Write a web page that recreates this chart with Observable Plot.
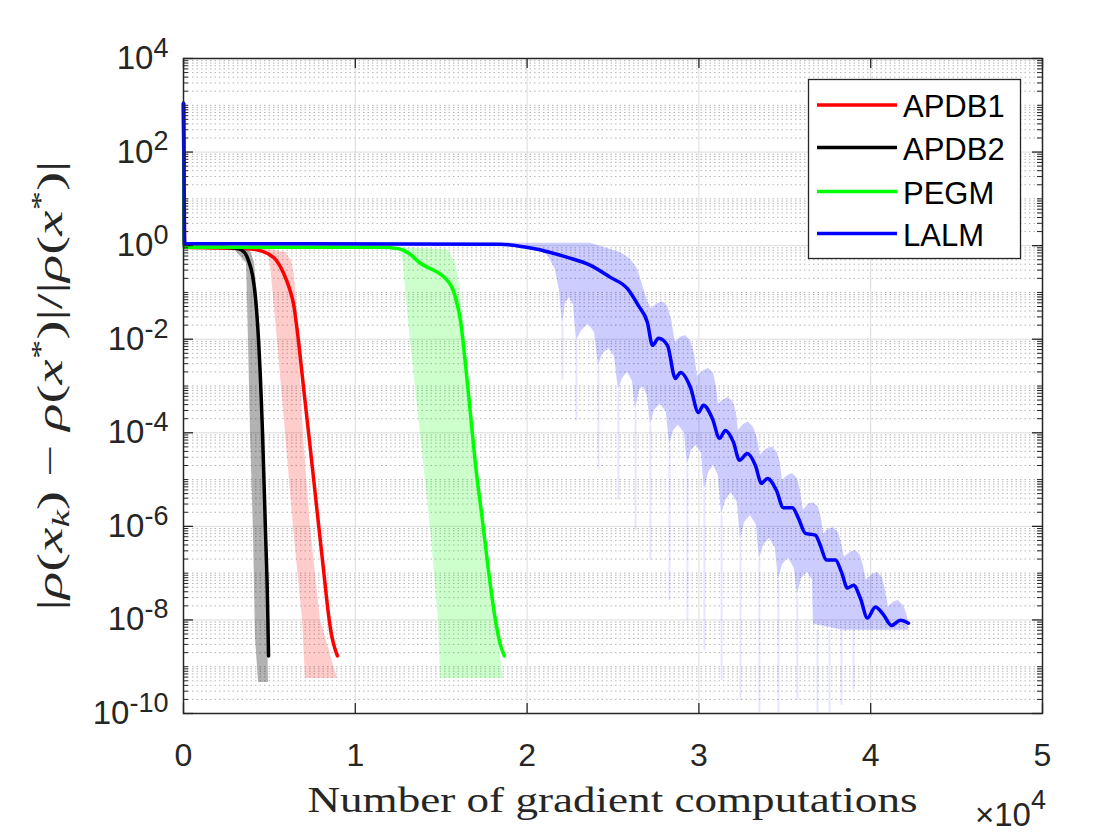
<!DOCTYPE html>
<html><head><meta charset="utf-8">
<script src="https://cdn.jsdelivr.net/npm/d3@7"></script>
<script src="https://cdn.jsdelivr.net/npm/@observablehq/plot@0.6"></script>
<style>
html,body{margin:0;padding:0;background:#fff;}
#chart{width:1120px;height:840px;}
</style></head><body><div id="chart"></div>
<script>
// ---------- series names / colours ----------
const seriesNames = ["APDB1", "APDB2", "PEGM", "LALM"];
const seriesColors = ["#ff0000", "#000000", "#00ff00", "#0000ff"];

// ---------- axis ticks ----------
const xTicks = [0, 10000, 20000, 30000, 40000, 50000];
const xTickLabels = ["0", "1", "2", "3", "4", "5"];
const yTicks = [1e-10, 1e-8, 1e-6, 1e-4, 1e-2, 1e0, 1e2, 1e4];
const yTickExponents = ["-10", "-8", "-6", "-4", "-2", "0", "2", "4"];

// ---------- APDB1 (mean line + band) ----------
const apdb1X = [0, 60, 3490, 4190, 4890, 5410, 5820, 6170, 6400, 6690, 6980, 7280, 7570, 7860, 8150, 8440, 8610, 8790, 8960];
const apdb1Y = [1.1e3, 0.92, 0.87, 0.83, 0.68, 0.48, 0.26, 0.12, 5.8e-2, 9.3e-3, 9.8e-4, 1.0e-4, 1.07e-5, 1.1e-6, 1.2e-7, 1.3e-8, 4.9e-9, 2.6e-9, 1.7e-9];
const apdb1LoX = [4600, 4890, 5010, 5120, 5240, 5470, 5940, 6400, 6930, 7100];
const apdb1LoY = [0.83, 0.74, 0.53, 0.23, 7.8e-2, 9.3e-3, 9.6e-5, 9.5e-7, 9.8e-9, 5.6e-10];
const apdb1HiX = [5060, 5940, 6290, 6460, 6580, 6690, 6980, 7390, 7970, 8960];
const apdb1HiY = [0.83, 0.71, 0.48, 0.23, 6.8e-2, 9.3e-3, 9.6e-5, 9.5e-7, 9.8e-9, 5.6e-10];

// ---------- APDB2 ----------
const apdb2X = [0, 60, 2150, 3140, 3550, 3780, 4020, 4190, 4370, 4600, 4770, 4890, 4950];
const apdb2Y = [1.1e3, 0.92, 0.92, 0.87, 0.72, 0.48, 0.23, 7.8e-2, 9.3e-3, 9.8e-5, 8.3e-7, 2.6e-8, 1.7e-9];
const apdb2LoX = [2850, 3670, 3720, 3780, 3900, 4070, 4190, 4370];
const apdb2LoY = [0.92, 0.42, 7.8e-2, 9.3e-3, 9.6e-5, 8.1e-7, 4.0e-9, 4.6e-10];
const apdb2HiX = [3320, 3900, 4130, 4310, 4370, 4600, 4770, 4950];
const apdb2HiY = [0.92, 0.76, 0.44, 7.8e-2, 9.3e-3, 9.6e-5, 8.1e-7, 4.6e-10];

// ---------- PEGM ----------
const pegmX = [0, 60, 11470, 12450, 13210, 13790, 14380, 14780, 15360, 15660, 15830, 16120, 16410, 16700, 16990, 17400, 17750, 18160, 18450, 18680];
const pegmY = [1.1e3, 0.92, 0.92, 0.87, 0.65, 0.42, 0.32, 0.27, 0.18, 0.12, 7.8e-2, 2.5e-2, 3.0e-3, 2.6e-4, 2.2e-5, 1.35e-6, 1.15e-7, 9.8e-9, 2.9e-9, 1.7e-9];
const pegmLoX = [12450, 12630, 12800, 12980, 13210, 13790, 14380, 14840, 14960];
const pegmLoY = [0.9, 0.79, 0.42, 6.8e-2, 9.3e-3, 9.6e-5, 9.5e-7, 9.8e-9, 5.6e-10];
const pegmHiX = [15360, 15830, 16120, 16410, 16880, 17460, 18160, 18620];
const pegmHiY = [0.83, 0.44, 0.11, 9.3e-3, 9.6e-5, 9.5e-7, 9.8e-9, 5.6e-10];

// ---------- LALM ----------
const lalmX = [0, 60, 18450, 20370, 22350, 23690, 24850, 25840, 26480, 27000,
  27300, 27650, 28170, 28630, 28930, 29510, 29970, 30260, 30790, 31200,
  31540, 32010, 32360, 32820, 33290, 33640, 33990, 34510, 34920, 35440,
  35790, 36200, 36780, 37070, 37420, 37950, 38300, 38650, 39000, 39400,
  39810, 40270, 40740, 41210, 41730, 42200];
const lalmY = [1.1e3, 1.11, 1.07, 0.87, 0.56, 0.38, 0.21, 0.12, 5.2e-2, 2.3e-2,
  7.4e-3, 1.05e-2, 7.4e-3, 1.45e-3, 1.95e-3, 9.3e-4, 2.7e-4, 3.9e-4, 2.0e-4, 7.6e-5,
  1.12e-4, 6.3e-5, 2.6e-5, 3.6e-5, 2.0e-5, 8.3e-6, 1.05e-5, 5.9e-6, 2.5e-6, 2.5e-6,
  1.5e-6, 7.1e-7, 6.5e-7, 3.9e-7, 1.9e-7, 1.9e-7, 1.05e-7, 4.8e-8, 5.5e-8, 2.9e-8,
  1.1e-8, 1.9e-8, 1.3e-8, 7.6e-9, 9.8e-9, 8.5e-9];
const lalmHiX = [60, 23690, 24680, 25430, 26010, 26420, 26710, 27000, 27240, 27530,
  27880, 28170, 28400, 28630, 28930, 29220, 29510, 29740, 29920, 30260,
  30560, 30850, 31020, 31140, 31430, 31720, 32010, 32190, 32300, 32590,
  32880, 33180, 33410, 33580, 33930, 34280, 34570, 34750, 34860, 35150,
  35440, 35730, 35910, 36080, 36380, 36670, 36960, 37130, 37250, 37540,
  37830, 38120, 38300, 38470, 38820, 39110, 39400, 39580, 39750, 40100,
  40390, 40680, 40860, 41030, 41320, 41610, 41910, 42080, 42200];
const lalmHiY = [1.17, 1.12, 0.87, 0.71, 0.52, 0.32, 0.15, 6.6e-2, 4.5e-2, 5.6e-2,
  6.3e-2, 5.1e-2, 2.7e-2, 8.5e-3, 1.1e-2, 1.2e-2, 9.3e-3, 5.0e-3, 1.6e-3, 2.1e-3,
  2.4e-3, 1.9e-3, 1.0e-3, 4.1e-4, 5.1e-4, 5.7e-4, 4.5e-4, 2.6e-4, 1.1e-4, 1.5e-4,
  1.7e-4, 1.3e-4, 7.6e-5, 3.3e-5, 4.5e-5, 4.9e-5, 3.8e-5, 2.2e-5, 9.5e-6, 1.2e-5,
  1.35e-5, 1.07e-5, 5.9e-6, 2.2e-6, 3.0e-6, 3.2e-6, 2.6e-6, 1.5e-6, 6.8e-7, 8.7e-7,
  9.5e-7, 7.4e-7, 4.4e-7, 2.2e-7, 2.8e-7, 3.1e-7, 2.4e-7, 1.4e-7, 7.1e-8, 9.3e-8,
  1.05e-7, 8.1e-8, 4.3e-8, 1.9e-8, 2.4e-8, 2.6e-8, 2.0e-8, 1.4e-8, 8.9e-9];
const lalmLoX = [60, 19610, 20600, 21240, 21650, 21880, 22060, 22230, 22470, 22700,
  22870, 23160, 23570, 23920, 24150, 24390, 24740, 25080, 25320, 25550,
  25840, 26130, 26310, 26540, 26770, 27000, 27180, 27410, 27760, 28110,
  28290, 28520, 28810, 29160, 29330, 29570, 29860, 30150, 30320, 30560,
  30850, 31140, 31320, 31540, 31890, 32240, 32420, 32650, 33000, 33350,
  33520, 33760, 34110, 34450, 34630, 34860, 35210, 35560, 35730, 35960,
  36320, 36610, 36670, 38410, 42200];
const lalmLoY = [1.0, 0.95, 0.87, 0.59, 0.30, 0.11, 1.95e-2, 5.8e-2, 7.8e-2, 5.2e-2,
  9.3e-3, 1.5e-2, 2.1e-2, 1.4e-2, 2.7e-3, 4.7e-3, 6.3e-3, 4.3e-3, 7.9e-4, 1.45e-3,
  1.95e-3, 1.3e-3, 3.0e-4, 8.1e-4, 9.8e-4, 6.3e-4, 1.45e-4, 3.0e-4, 4.1e-4, 2.75e-4,
  5.4e-5, 1.1e-4, 1.45e-4, 9.8e-5, 2.0e-5, 4.2e-5, 5.4e-5, 3.6e-5, 5.9e-6, 1.4e-5,
  2.0e-5, 1.2e-5, 1.7e-6, 3.5e-6, 5.2e-6, 3.2e-6, 5.0e-7, 1.2e-6, 1.7e-6, 1.05e-6,
  1.9e-7, 3.9e-7, 5.5e-7, 3.4e-7, 7.1e-8, 1.5e-7, 2.1e-7, 1.26e-7, 3.3e-8, 7.6e-8,
  1.05e-7, 7.1e-8, 8.1e-9, 6.0e-9, 6.0e-9];
// faint downward spikes of the LALM band
const lalmSpikeX = [22060, 22870, 24150, 25320, 26310, 27180, 28290, 29330, 30320, 31320, 32420, 33520, 34630, 35730, 36900, 37600, 38300, 39000];
const lalmSpikeTop = [1.95e-2, 9.3e-3, 2.7e-3, 7.9e-4, 3.0e-4, 1.45e-4, 5.4e-5, 2.0e-5, 5.9e-6, 1.7e-6, 5.0e-7, 1.9e-7, 7.1e-8, 3.3e-8, 6e-9, 6e-9, 6e-9, 6e-9];
const lalmSpikeBottom = [1.3e-3, 1.8e-4, 1.6e-5, 3.6e-6, 8.3e-7, 1.9e-7, 2.6e-8, 9.8e-9, 2.2e-9, 5.1e-10, 1.9e-10, 1.05e-10, 1.05e-10, 1.9e-10, 1.05e-10, 1.05e-10, 1.5e-10, 3.2e-10];

// ---------- helpers (build tables from the arrays) ----------
const pts = (xs, ys) => xs.map((x, i) => ({x, y: ys[i]}));
function band(loX, loY, hiX, hiY) {
  const n = Math.max(loX.length, hiX.length), rows = [];
  for (let i = 0; i < n; i++) {
    const a = Math.min(i, loX.length - 1), b = Math.min(i, hiX.length - 1);
    rows.push({x1: loX[a], y1: loY[a], x2: hiX[b], y2: hiY[b]});
  }
  return rows;
}
const spikes = lalmSpikeX.map((x, i) => ({x, y1: lalmSpikeTop[i], y2: lalmSpikeBottom[i]}));

// minor log ticks (axis decoration)
const yMinor = [];
for (let k = -10; k < 4; k++) for (let m = 1; m < 10; m++) {
  const v = m * Math.pow(10, k);
  if (!(m === 1 && k % 2 === 0)) yMinor.push(v);
}

const W = 1120, H = 840, ML = 183, MR = 78, MT = 58, MB = 127;
const PW = W - ML - MR, PH = H - MT - MB;
const axisColor = "#262626";

const bandSpec = [
  [apdb2LoX, apdb2LoY, apdb2HiX, apdb2HiY, "#000000", 0.3],
  [apdb1LoX, apdb1LoY, apdb1HiX, apdb1HiY, "#ff0000", 0.2],
  [pegmLoX, pegmLoY, pegmHiX, pegmHiY, "#00ff00", 0.2],
  [lalmLoX, lalmLoY, lalmHiX, lalmHiY, "#0000ff", 0.2]
];
const lineSpec = [
  [apdb1X, apdb1Y, seriesColors[0]],
  [apdb2X, apdb2Y, seriesColors[1]],
  [pegmX, pegmY, seriesColors[2]],
  [lalmX, lalmY, seriesColors[3]]
];

const svg = Plot.plot({
  width: W, height: H,
  marginLeft: ML, marginRight: MR, marginTop: MT, marginBottom: MB,
  x: {domain: [0, 50000]},
  y: {type: "log", domain: [1e-10, 1e4]},
  style: {fontFamily: "'Liberation Sans', Arial, sans-serif", fontSize: "32px", color: axisColor, background: "#fff", overflow: "visible"},
  marks: [
    // grid
    Plot.ruleY(yMinor, {stroke: "#b5b5b5", strokeWidth: 1, strokeDasharray: "1.5,3"}),
    Plot.ruleY(yTicks.slice(1, -1), {stroke: "#dcdcdc", strokeWidth: 1}),
    Plot.ruleX(xTicks.slice(1, -1), {stroke: "#dcdcdc", strokeWidth: 1}),
    // bands
    ...bandSpec.map(([lx, ly, hx, hy, c, o]) =>
      Plot.area(band(lx, ly, hx, hy), {x1: "x1", y1: "y1", x2: "x2", y2: "y2", fill: c, fillOpacity: o})),
    Plot.ruleX(spikes, {x: "x", y1: "y1", y2: "y2", stroke: "#0000ff", strokeOpacity: 0.1, strokeWidth: 2}),
    // mean lines
    ...lineSpec.map(([xs, ys, c]) =>
      Plot.line(pts(xs, ys), {x: "x", y: "y", stroke: c, strokeWidth: 3.5, curve: "monotone-x", strokeLinejoin: "round"})),
    // box + inner ticks
    Plot.frame({stroke: axisColor, strokeWidth: 1.5}),
    Plot.tickY(yTicks, {insetRight: PW - 10, stroke: axisColor, strokeWidth: 1.3}),
    Plot.tickY(yTicks, {insetLeft: PW - 10, stroke: axisColor, strokeWidth: 1.3}),
    Plot.tickY(yMinor, {insetRight: PW - 5, stroke: axisColor, strokeWidth: 1}),
    Plot.tickY(yMinor, {insetLeft: PW - 5, stroke: axisColor, strokeWidth: 1}),
    Plot.tickX(xTicks, {insetTop: PH - 10, stroke: axisColor, strokeWidth: 1.3}),
    Plot.tickX(xTicks, {insetBottom: PH - 10, stroke: axisColor, strokeWidth: 1.3}),
    // tick labels
    Plot.axisX(xTicks, {anchor: "bottom", tickSize: 0, tickPadding: 30, label: null,
      tickFormat: d => xTickLabels[xTicks.indexOf(d)], fontSize: 32}),
    Plot.axisY(yTicks, {anchor: "left", tickSize: 0, tickPadding: 15, label: null,
      tickFormat: d => "10^" + yTickExponents[yTicks.indexOf(d)], fontSize: 32})
  ]
});

const root = d3.select(svg);
// force tick-label font size and build superscripts for y tick labels
root.selectAll("g[aria-label='x-axis tick label'], g[aria-label='y-axis tick label']")
  .attr("font-size", 33).style("font-size", "33px");
root.selectAll("text").each(function () {
  const t = this.textContent;
  if (/^10\^/.test(t)) {
    const e = t.slice(3);
    const sel = d3.select(this);
    sel.text(null).attr("font-size", 33).style("font-size", "33px");
    sel.append("tspan").text("10");
    sel.append("tspan").attr("dy", "-0.45em").attr("font-size", "27px").text(e);
  } else if (xTickLabels.includes(t)) {
    d3.select(this).attr("font-size", 32).style("font-size", "32px");
  }
});

function addText(parent, attrs, segs) {
  const t = parent.append("text");
  for (const k in attrs) t.attr(k, attrs[k]);
  let shift = 0;
  for (const s of segs) {
    const sp = t.append("tspan").text(s.t);
    const target = s.shift || 0;
    if (target !== shift) { sp.attr("dy", target - shift); shift = target; }
    if (s.italic) sp.attr("font-style", "italic");
    if (s.size) sp.attr("font-size", s.size);
  }
  return t;
}

// x label (LaTeX-like serif)
addText(root, {x: ML + PW / 2, y: 812, "text-anchor": "middle", "font-family": "'Liberation Serif', 'DejaVu Serif', serif",
  "font-size": 36, fill: "#262626", textLength: 610, lengthAdjust: "spacingAndGlyphs"},
  [{t: "Number of gradient computations"}]);

// x10^4 multiplier
addText(root, {x: ML + PW + 4, y: 826, "text-anchor": "end", "font-family": "'Liberation Sans', Arial, sans-serif", "font-size": 33, fill: "#262626"},
  [{t: "×10"}, {t: "4", shift: -17, size: 27}]);

// y label
const yl = root.append("g").attr("transform", `translate(62,${MT + PH / 2}) rotate(-90)`);
addText(yl, {x: 0, y: 0, "text-anchor": "middle", "font-family": "'Liberation Serif', 'DejaVu Serif', serif", "font-size": 36,
  fill: "#262626", textLength: 450, lengthAdjust: "spacingAndGlyphs"},
  [{t: "|"}, {t: "ρ", italic: true}, {t: "("}, {t: "x", italic: true}, {t: "k", italic: true, shift: 7, size: 25},
   {t: ") − "}, {t: "ρ", italic: true}, {t: "("}, {t: "x", italic: true}, {t: "*", shift: -13, size: 25},
   {t: ")|/|"}, {t: "ρ", italic: true}, {t: "("}, {t: "x", italic: true}, {t: "*", shift: -13, size: 25}, {t: ")|"}]);

// legend
const lg = root.append("g").attr("text-anchor", "start");
lg.append("rect").attr("x", 808.5).attr("y", 79.5).attr("width", 212).attr("height", 179)
  .attr("fill", "#fff").attr("stroke", "#262626").attr("stroke-width", 1.3);
const rowsY = [105, 147.5, 191.5, 233.5];
seriesNames.forEach((n, i) => {
  lg.append("line").attr("x1", 817).attr("x2", 897).attr("y1", rowsY[i]).attr("y2", rowsY[i])
    .attr("stroke", seriesColors[i]).attr("stroke-width", 3.5);
  lg.append("text").attr("x", 903).attr("y", rowsY[i] + 12).attr("text-anchor", "start")
    .attr("font-family", "'Liberation Sans', Arial, sans-serif")
    .attr("font-size", 31).attr("fill", "#000").text(n);
});

document.getElementById("chart").appendChild(svg);
</script></body></html>
